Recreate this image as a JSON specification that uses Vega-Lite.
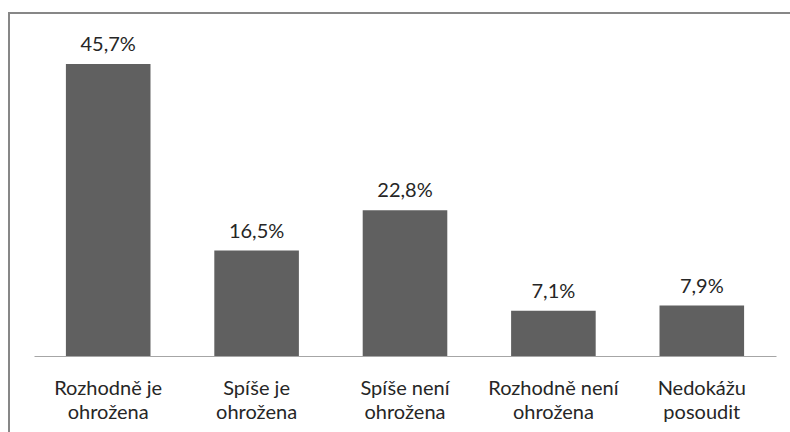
{
  "$schema": "https://vega.github.io/schema/vega-lite/v6.json",
  "autosize": {"type": "none"},
  "padding": {"left": 9, "top": 13, "right": 0, "bottom": 0},
  "width": 800,
  "height": 440,
  "background": "white",
  "config": {
    "locale": {"number": {"decimal": ",", "thousands": " ", "grouping": [3], "currency": ["", " Kč"]}},
    "view": {"stroke": "#878787", "strokeWidth": 2},
    "font": "Lato"
  },
  "data": {
    "values": [
      {"kategorie": "Rozhodně je ohrožena", "podil": 0.457},
      {"kategorie": "Spíše je ohrožena", "podil": 0.165},
      {"kategorie": "Spíše není ohrožena", "podil": 0.228},
      {"kategorie": "Rozhodně není ohrožena", "podil": 0.071},
      {"kategorie": "Nedokážu posoudit", "podil": 0.079}
    ]
  },
  "encoding": {
    "x": {
      "field": "kategorie",
      "type": "nominal",
      "sort": null,
      "scale": {"range": [25, 767], "paddingInner": 0.43, "paddingOuter": 0.215},
      "axis": {
        "title": null,
        "orient": "bottom",
        "offset": -97,
        "labelAngle": 0,
        "ticks": false,
        "domainColor": "#a6a6a6",
        "domainWidth": 1,
        "labelFont": "Lato",
        "labelFontSize": 20,
        "labelColor": "#262626",
        "labelPadding": 22,
        "labelLineHeight": 24,
        "labelBaseline": "top",
        "labelExpr": "[slice(datum.label, 0, lastindexof(datum.label, ' ')), slice(datum.label, lastindexof(datum.label, ' ') + 1)]"
      }
    },
    "y": {
      "field": "podil",
      "type": "quantitative",
      "scale": {"domain": [0, 0.5], "range": [343, 23.5], "nice": false, "zero": true},
      "axis": null
    }
  },
  "layer": [
    {"mark": {"type": "bar", "color": "#606060"}},
    {
      "mark": {"type": "text", "baseline": "alphabetic", "dy": -13, "fontSize": 20, "color": "#262626", "font": "Lato"},
      "encoding": {"text": {"field": "podil", "type": "quantitative", "format": ".1%"}}
    }
  ]
}
